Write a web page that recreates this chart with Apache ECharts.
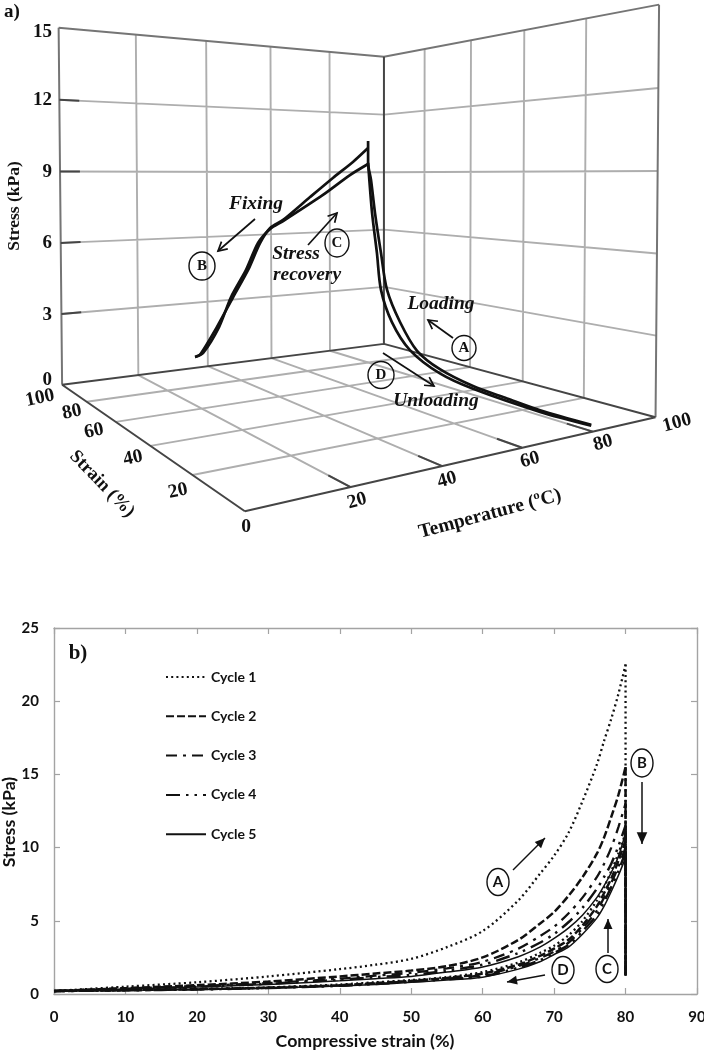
<!DOCTYPE html>
<html><head><meta charset="utf-8">
<style>html,body{margin:0;padding:0;background:#fff}#c{width:704px;height:1050px}</style>
<script src="https://cdn.jsdelivr.net/npm/echarts@6/dist/echarts.min.js"></script>
</head><body><div id="c"></div>
<script>
// ---- Panel a: values ----
const tempTicks=[20,40,60,80];
const strainTicks=[20,40,60,80];
const stressTicks=[3,6,9,12];
const tempLabels=[20,40,60,80,100];
const strainLabels=[0,20,40,60,80,100];
const stressLabels=[0,3,6,9,12,15];

const loadingTemp=79.5;
const loadingStrain=[0,14.2,24.4,35.9,48.2,57.4,64.7,70.5,73.3,76.1,78,79.4,79.4];
const loadingStress=[.25,.22,.29,.38,.68,1.2,2.29,3.62,5.27,7.09,8.62,9.42,10.44];
const unloadingStrain=[0,14.2,35.9,48.2,60.4,68.3,73.3,75.2,77.5,79.4];
const unloadingStress=[.22,.16,.27,.5,1.15,2.2,3.57,5.25,7.09,9.42];
const peakStrain=80;
const fixingTemp=[79.9,74.8,68.2,60.9,52.6,48.7,45.7,42.2,37.9,33.3,28.6,27.3];
const fixingStress=[10.12,9.46,8.72,7.86,6.87,6.53,5.89,4.75,3.63,2.41,1.31,1.25];
const recoveryTemp=[27.3,29.5,33.9,37.3,41.6,45.1,48.7,52.6,65,73.8,79.9];
const recoveryStress=[1.25,1.38,2.40,3.64,4.76,5.90,6.49,6.82,7.95,8.85,9.37];

// ---- Panel b: values ----
const cycleNames=['Cycle 1','Cycle 2','Cycle 3','Cycle 4','Cycle 5'];
const loadStrainB=[0,10,20,30,40,45,50,55,60,65,68,70,72,74,76,77,78,79,80];
const load1=[.2,.5,.8,1.2,1.7,2.0,2.4,3.2,4.3,6.4,8.2,9.45,11,13.2,15.7,17.3,18.8,20.5,22.5];
const load2=[.2,.4,.6,.85,1.2,1.4,1.6,1.9,2.5,3.7,4.8,5.6,6.7,8.0,9.6,10.7,12.1,13.6,15.5];
const load3=[.2,.38,.55,.75,1.05,1.25,1.45,1.75,2.2,3.1,3.95,4.6,5.5,6.6,8.0,8.9,10,11.4,13];
const load4=[.2,.36,.5,.7,.98,1.15,1.3,1.6,2.0,2.8,3.5,4.1,4.9,5.9,7.2,8,8.9,10.1,11.5];
const load5=[.2,.34,.48,.65,.9,1.05,1.2,1.5,1.85,2.55,3.2,3.8,4.5,5.4,6.6,7.4,8.3,9.4,11];
const unloadStrainB=[80,79,78,77,76,74,72,70,68,65,60,55,50,45,40,30,20,10,0];
const unload1=[11,9.6,8.4,7.3,6.4,5,4,3.3,2.8,2.15,1.5,1.15,.95,.8,.65,.45,.35,.27,.2];
const unload2=[10.5,9.1,7.9,6.9,6,4.7,3.7,3.1,2.6,2,1.4,1.1,.9,.75,.6,.43,.33,.26,.2];
const unload3=[10,8.7,7.6,6.6,5.7,4.5,3.5,2.9,2.45,1.9,1.3,1.05,.88,.72,.58,.42,.32,.25,.2];
const unload4=[9.7,8.4,7.3,6.3,5.4,4.3,3.35,2.8,2.3,1.8,1.2,1,.84,.68,.56,.41,.31,.25,.2];
const unload5=[9.3,8.1,7.0,6.0,5.2,4.1,3.2,2.7,2.2,1.7,1.15,.95,.8,.65,.55,.4,.3,.25,.2];
const dropStress=1.25;

// ---- Perspective camera for the panel-a box, fitted to its reference points ----
const cameraAnchors=[
 [0,100,0,62,386],[0,0,0,243,513],[100,0,0,653,417],[100,100,0,383,345],
 [0,100,15,59,27],[100,100,15,384,59],[100,0,15,660,3],
 [20,0,0,351,487],[40,0,0,443,466],[60,0,0,519,448],[80,0,0,594,430],
 [0,20,0,193,476],[0,40,0,152,447],[0,60,0,117,423],[0,80,0,89,402],
 [20,100,0,136,374],[40,100,0,207,363],[60,100,0,271,354],[80,100,0,330,352],
 [100,20,0,587,399],[100,40,0,524,382],[100,60,0,471,368],[100,80,0,425,355],
 [0,100,6,60,243],[0,100,9,60,172],[100,100,6,384,231],[100,100,9,384,171],[100,0,6,655,253],[100,0,9,657,170]
];
function solve(A,b){const n=b.length;A=A.map((r,i)=>r.concat(b[i]));
 for(let i=0;i<n;i++){let m=i;for(let k=i+1;k<n;k++)if(Math.abs(A[k][i])>Math.abs(A[m][i]))m=k;
  [A[i],A[m]]=[A[m],A[i]];
  for(let k=0;k<n;k++){if(k===i)continue;const f=A[k][i]/A[i][i];for(let j=i;j<=n;j++)A[k][j]-=f*A[i][j];}}
 return A.map((r,i)=>r[n]/r[i]);}
const cam=(function(){const N=Array.from({length:11},()=>new Array(11).fill(0)),V=new Array(11).fill(0);
 cameraAnchors.forEach(([t,s,z,x,y])=>{t/=100;s/=100;z/=15;
  [[t,s,z,1,0,0,0,0,-x*t,-x*s,-x*z,x],[0,0,0,0,t,s,z,1,-y*t,-y*s,-y*z,y]].forEach(r=>{
   for(let i=0;i<11;i++){V[i]+=r[i]*r[11];for(let j=0;j<11;j++)N[i][j]+=r[i]*r[j];}});});
 return solve(N,V);})();
function P(T,S,Z){const t=T/100,s=S/100,z=Z/15,w=cam[8]*t+cam[9]*s+cam[10]*z+1;
 return [(cam[0]*t+cam[1]*s+cam[2]*z+cam[3])/w,(cam[4]*t+cam[5]*s+cam[6]*z+cam[7])/w];}
const GAP=['-','-'];
function segs(list){const o=[];list.forEach(l=>{l.forEach(p=>o.push(P(p[0],p[1],p[2])));o.push(GAP);});return o;}

const lightSegs=[],darkSegs=[],midSegs=[];
tempTicks.forEach(T=>{lightSegs.push([[T,100,0],[T,100,15]]);lightSegs.push([[T,0,0],[T,100,0]]);
  darkSegs.push([[T,0,0],[T,7,0]]);});
strainTicks.forEach(S=>{lightSegs.push([[100,S,0],[100,S,15]]);lightSegs.push([[0,S,0],[100,S,0]]);});
stressTicks.forEach(Z=>{lightSegs.push([[0,100,Z],[100,100,Z]]);lightSegs.push([[100,100,Z],[100,0,Z]]);
  darkSegs.push([[0,100,Z],[5,100,Z]]);});
darkSegs.push([[0,100,0],[100,100,0]],[[0,100,0],[0,0,0]],[[0,0,0],[100,0,0]],[[100,0,0],[100,100,0]],[[100,100,0],[100,100,15]]);
midSegs.push([[0,100,0],[0,100,15]],[[0,100,15],[100,100,15]],[[100,100,15],[100,0,15]],[[100,0,15],[100,0,0]]);

const curveStyle={color:'#111',width:2.7};
function aLine(name,data,smooth,style){return {type:'line',name,xAxisIndex:0,yAxisIndex:0,data,smooth:smooth||false,showSymbol:false,symbol:'none',connectNulls:false,silent:true,animation:false,lineStyle:style,z:style===curveStyle?5:2};}
const zip3=(T,S,Z)=>Z.map((z,i)=>P(Array.isArray(T)?T[i]:T,Array.isArray(S)?S[i]:S,z));

const series=[
 aLine('wall grid',segs(lightSegs),false,{color:'#aeaeae',width:1.9}),
 aLine('box top',segs(midSegs),false,{color:'#757575',width:2}),
 aLine('box floor',segs(darkSegs),false,{color:'#454545',width:2}),
 aLine('Loading',zip3(loadingTemp,loadingStrain,loadingStress),0.3,curveStyle),
 aLine('Unloading',zip3(loadingTemp,unloadingStrain,unloadingStress),0.3,curveStyle),
 aLine('Fixing',zip3(fixingTemp,peakStrain,fixingStress),0.25,curveStyle),
 aLine('Stress recovery',zip3(recoveryTemp,peakStrain,recoveryStress),0.25,curveStyle)
];

// ---- Panel b series ----
const zip2=(x,y)=>y.map((v,i)=>[x[i],v]);
const cycleLoads=[load1,load2,load3,load4,load5];
const cycleUnloads=[unload1,unload2,unload3,unload4,unload5];
const cycleStyles=[
 {type:[2,3.2],width:2.3,cap:'butt'},
 {type:[8,3],width:2.5},
 {type:[11,6,3,6],width:2.3},
 {type:[14,6,2.5,6,2.5,6],width:2.5},
 {type:'solid',width:1.5}
];
cycleNames.forEach((n,i)=>{
 const base={type:'line',name:n,xAxisIndex:1,yAxisIndex:1,showSymbol:false,symbol:'none',animation:false,silent:true,
   lineStyle:Object.assign({color:'#111'},cycleStyles[i]),itemStyle:{color:'#111'}};
 const L=cycleLoads[i],U=cycleUnloads[i];
 series.push(Object.assign({},base,{data:zip2(loadStrainB,L),smooth:0.3}));
 series.push(Object.assign({},base,{data:[[80,L[L.length-1]],[80,dropStress],[80,U[0]]],smooth:false}));
 series.push(Object.assign({},base,{data:zip2(unloadStrainB,U),smooth:0.3}));
});

// ---- Annotations ----
const SERIF='"Liberation Serif"',SANS='Lato';
function txt(text,x,y,font,rot,align){return {type:'text',x,y,rotation:(rot||0)*Math.PI/180,z:20,silent:true,
  style:{text,x:0,y:0,font,fill:'#111',align:align||'center',verticalAlign:'middle'}};}
function ell(x,y,rx,ry,w){return {type:'ellipse',z:19,silent:true,shape:{cx:x,cy:y,rx,ry},style:{fill:'transparent',stroke:'#111',lineWidth:w||1.4}};}
function arrow(x1,y1,x2,y2,filled,w,h){const a=Math.atan2(y2-y1,x2-x1),L=h||10,W=filled?0.42:0.5;
 const p1=[x2-L*Math.cos(a-W),y2-L*Math.sin(a-W)],p2=[x2-L*Math.cos(a+W),y2-L*Math.sin(a+W)];
 const els=[{type:'line',z:19,silent:true,shape:{x1,y1,x2,y2},style:{stroke:'#111',lineWidth:w||1.6}}];
 if(filled)els.push({type:'polygon',z:19,silent:true,shape:{points:[[x2,y2],p1,p2]},style:{fill:'#111'}});
 else els.push({type:'polyline',z:19,silent:true,shape:{points:[p1,[x2,y2],p2]},style:{stroke:'#111',lineWidth:w||1.6,fill:'none'}});
 return els;}
const bs=(s)=>'bold '+s+'px '+SERIF, it=(s)=>'italic bold '+s+'px '+SERIF, sb=(s)=>'bold '+s+'px '+SANS;
const stressY=[380,315,243,172,100,32], tempPos=[[357,501],[447,480],[530,460],[603,443],[677,423]],
      strainPos=[[246,527],[178,491],[133,458],[94,431],[72,412],[40,398]];
let g=[
 txt('a)',12,12,bs(19)),
 txt('Stress (kPa)',14,206,bs(17.5),90),
 txt('Strain (%)',102,484,bs(18.5),-46),
 txt('Temperature (ºC)',490,514,bs(19.5),15),
 txt('b)',78,654,bs(21)),
 txt('Stress (kPa)',9,822,sb(17.8),90),
 txt('Compressive strain (%)',365,1041,sb(17.8)),
 txt('Fixing',256,204,it(19.5)),txt('Stress',296,254,it(19.5)),txt('recovery',307,275,it(19.5)),
 txt('Loading',441,304,it(19.5)),txt('Unloading',436,401,it(19.5)),
 ell(202,266,13,14),txt('B',202,266,bs(15)),
 ell(337,243,12,14),txt('C',337,243,bs(15)),
 ell(464,348,12,12.5),txt('A',464,348,bs(15)),
 ell(381,375,13,13.5),txt('D',381,375,bs(15)),
 ell(642,763,11,14),txt('B',642,763,sb(15)),
 ell(498,882,11,13.5),txt('A',498,882,sb(15)),
 ell(607,969,11,13.5),txt('C',607,969,sb(15)),
 ell(563,970,11,13.5),txt('D',563,970,sb(15))
];
stressLabels.forEach((v,i)=>g.push(txt(String(v),52,stressY[i],bs(19),0,'right')));
tempLabels.forEach((v,i)=>g.push(txt(String(v),tempPos[i][0],tempPos[i][1],bs(19.5),15)));
strainLabels.forEach((v,i)=>g.push(txt(String(v),strainPos[i][0],strainPos[i][1],bs(19.5),i===0?0:12)));
g=g.concat(arrow(255,219,218,251,false,1.7),arrow(308,245,337,213,false,1.7),arrow(453,338,428,320,false,1.7),arrow(383,353,434,386,false,1.7),
 arrow(642,782,642,844,true,1.5,13),arrow(513,870,545,838,true,1.5,11),arrow(608,953,608,919,true,1.5,11),arrow(545,975,507,982,true,1.5,11));

const axisGrey={onZero:false,lineStyle:{color:'#a3a3a3',width:1.4}};
const tickGrey={show:true,inside:true,length:6,lineStyle:{color:'#a3a3a3',width:1.2}};
const hidden={show:false};
const option={
 animation:false,backgroundColor:'#fff',
 grid:[{left:0,top:0,width:704,height:560,show:false,outerBoundsMode:'none'},{left:54,top:628,width:643,height:366,show:false,outerBoundsMode:'none'}],
 xAxis:[
  {gridIndex:0,type:'value',min:0,max:704,show:false},
  {gridIndex:1,type:'value',min:0,max:90,interval:10,axisLine:axisGrey,axisTick:tickGrey,splitLine:hidden,
   axisLabel:{color:'#111',fontFamily:SANS,fontWeight:'bold',fontSize:15,margin:16,showMaxLabel:true}},
  {gridIndex:1,type:'value',position:'top',min:0,max:90,interval:10,axisLine:axisGrey,axisTick:tickGrey,axisLabel:hidden,splitLine:hidden}
 ],
 yAxis:[
  {gridIndex:0,type:'value',min:0,max:560,inverse:true,show:false},
  {gridIndex:1,type:'value',min:0,max:25,interval:5,axisLine:axisGrey,axisTick:tickGrey,splitLine:hidden,
   axisLabel:{color:'#111',fontFamily:SANS,fontWeight:'bold',fontSize:15,margin:15}},
  {gridIndex:1,type:'value',position:'right',min:0,max:25,interval:5,axisLine:axisGrey,axisTick:tickGrey,axisLabel:hidden,splitLine:hidden}
 ],
 legend:{data:cycleNames,orient:'vertical',left:160,top:665,itemWidth:40,itemHeight:14,itemGap:25.3,selectedMode:false,
   itemStyle:{color:'transparent',borderWidth:0,opacity:0},
   textStyle:{color:'#111',fontFamily:SANS,fontWeight:'bold',fontSize:14}},
 series,
 graphic:{elements:g}
};
const chart=echarts.init(document.getElementById('c'),null,{width:704,height:1050});
chart.setOption(option);
</script></body></html>
